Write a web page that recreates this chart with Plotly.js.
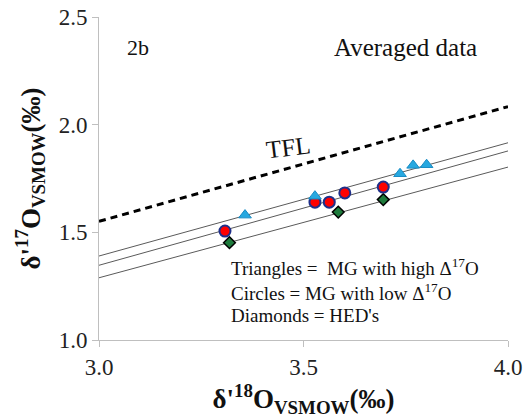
<!DOCTYPE html>
<html>
<head>
<meta charset="utf-8">
<script src="https://cdn.plot.ly/plotly-3.0.1.min.js"></script>
<style>
html,body{margin:0;padding:0;background:#fff;}
#chart text, #chart tspan { font-family: 'Liberation Serif', 'Times New Roman', serif !important; }
</style>
</head>
<body>
<div id="chart"></div>
<script>
// Data
const triX = [3.357, 3.528, 3.736, 3.768, 3.801];
const triY = [1.580, 1.668, 1.772, 1.811, 1.814];
const cirX = [3.308, 3.528, 3.563, 3.601, 3.695];
const cirY = [1.506, 1.640, 1.640, 1.683, 1.710];
const diaX = [3.319, 3.585, 3.695];
const diaY = [1.452, 1.594, 1.652];
const lineX = [3.0, 4.0];
const tflY = [1.551, 2.084];
const fitHighY = [1.390, 1.916];
const fitLowY = [1.347, 1.878];
const fitHedY = [1.289, 1.803];
const xTicks = [3.0, 3.5, 4.0];
const xTickText = ['3.0', '3.5', '4.0'];
const yTicks = [1.0, 1.5, 2.0, 2.5];
const yTickText = ['1.0', '1.5', '2.0', '2.5'];

const FAM = 'Liberation Serif';

const traces = [
  {x: lineX, y: tflY, mode: 'lines', line: {color: '#000', width: 3, dash: '7px,5px'}, hoverinfo: 'skip'},
  {x: lineX, y: fitHighY, mode: 'lines', line: {color: '#5a5a5a', width: 1}, hoverinfo: 'skip'},
  {x: lineX, y: fitLowY, mode: 'lines', line: {color: '#5a5a5a', width: 1}, hoverinfo: 'skip'},
  {x: lineX, y: fitHedY, mode: 'lines', line: {color: '#5a5a5a', width: 1}, hoverinfo: 'skip'},
  {x: diaX, y: diaY, mode: 'markers', marker: {symbol: 'diamond', size: 9, color: '#1e7b3c', line: {color: '#000', width: 1.5}}},
  {x: cirX, y: cirY, mode: 'markers', marker: {symbol: 'circle', size: 11, color: '#ff0000', line: {color: '#1f2f8a', width: 2}}},
  {x: triX, y: triY, mode: 'markers', marker: {symbol: 'triangle-up', size: 11, color: '#27a8e0', line: {color: '#1a8cc4', width: 1}}}
];

const layout = {
  width: 523, height: 420,
  margin: {l: 99, r: 15, t: 17, b: 80},
  showlegend: false,
  xaxis: {
    range: [3, 4], tickvals: xTicks, ticktext: xTickText,
    showgrid: false, zeroline: false, showline: true, linecolor: '#bfbfbf', linewidth: 1,
    ticks: 'outside', ticklen: 6, tickcolor: '#bfbfbf',
    tickfont: {family: FAM, size: 23, color: '#222'},
    title: {text: "<b>δ'<sup>18</sup>O<sub>VSMOW</sub>(‰)</b>", font: {family: FAM, size: 27, color: '#111'}, standoff: 6}
  },
  yaxis: {
    range: [1, 2.5], tickvals: yTicks, ticktext: yTickText,
    showgrid: false, zeroline: false, showline: true, linecolor: '#bfbfbf', linewidth: 1,
    ticks: 'outside', ticklen: 6, tickcolor: '#bfbfbf',
    tickfont: {family: FAM, size: 23, color: '#222'},
    title: {text: "<b>δ'<sup>17</sup>O<sub>VSMOW</sub>(‰)</b>", font: {family: FAM, size: 27, color: '#111'}, standoff: 10}
  },
  annotations: [
    {x: 0.064, y: 0.905, xref: 'paper', yref: 'paper', text: '2b', showarrow: false, xanchor: 'left', yanchor: 'middle', font: {family: FAM, size: 22, color: '#111'}},
    {x: 0.93, y: 0.905, xref: 'paper', yref: 'paper', text: 'Averaged data', showarrow: false, xanchor: 'right', yanchor: 'middle', font: {family: FAM, size: 25, color: '#111'}},
    {x: 3.462, y: 1.895, xref: 'x', yref: 'y', text: 'TFL', showarrow: false, textangle: -7, font: {family: FAM, size: 25, color: '#111'}},
    {x: 0.318, y: 0.225, xref: 'paper', yref: 'paper', xanchor: 'left', yanchor: 'middle', showarrow: false, align: 'left',
     text: 'Triangles =  MG with high Δ<sup>17</sup>O', font: {family: FAM, size: 19, color: '#111'}},
    {x: 0.318, y: 0.15, xref: 'paper', yref: 'paper', xanchor: 'left', yanchor: 'middle', showarrow: false, align: 'left',
     text: 'Circles = MG with low Δ<sup>17</sup>O', font: {family: FAM, size: 19, color: '#111'}},
    {x: 0.318, y: 0.076, xref: 'paper', yref: 'paper', xanchor: 'left', yanchor: 'middle', showarrow: false, align: 'left',
     text: "Diamonds = HED's", font: {family: FAM, size: 19, color: '#111'}}
  ]
};

Plotly.newPlot('chart', traces, layout, {staticPlot: true});
</script>
</body>
</html>
